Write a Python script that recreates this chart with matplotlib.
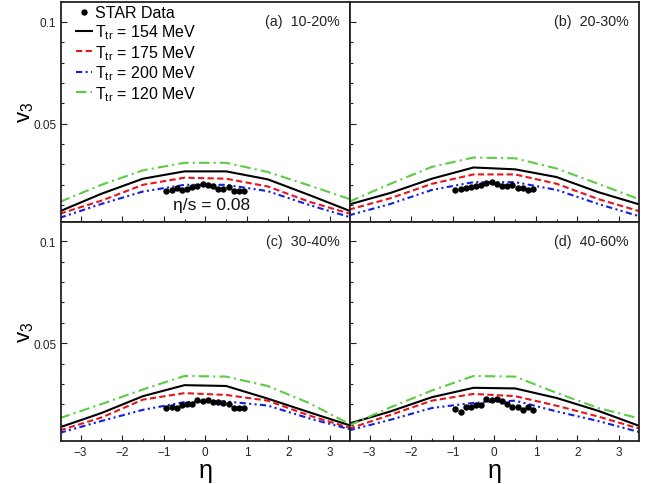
import numpy as np
import matplotlib
matplotlib.use("Agg")
import matplotlib.pyplot as plt
from matplotlib.ticker import MultipleLocator, FixedLocator, FuncFormatter

plt.rcParams['font.family'] = ['Liberation Sans', 'DejaVu Sans']
plt.rcParams['mathtext.fontset'] = 'custom'
plt.rcParams['mathtext.rm'] = 'Liberation Sans'
plt.rcParams['mathtext.it'] = 'Liberation Sans'

# Model grid in pseudorapidity
eta_model = [-3.5, -2.5, -1.5, -0.5, 0.5, 1.5, 2.5, 3.5]
# STAR measurement bins
eta_data = [-0.9375, -0.8125, -0.6875, -0.5625, -0.4375, -0.3125, -0.1875, -0.0625,
            0.0625, 0.1875, 0.3125, 0.4375, 0.5625, 0.6875, 0.8125, 0.9375]

panel_labels = ["(a)  10-20%", "(b)  20-30%", "(c)  30-40%", "(d)  40-60%"]

# v3(eta), T_tr = 154 MeV
v3_154 = [
    [0.0070, 0.0156, 0.0230, 0.0266, 0.0266, 0.0227, 0.0150, 0.0070],
    [0.0103, 0.0160, 0.0230, 0.0285, 0.0276, 0.0238, 0.0164, 0.0103],
    [0.0087, 0.0157, 0.0240, 0.0294, 0.0290, 0.0228, 0.0161, 0.0095],
    [0.0105, 0.0165, 0.0235, 0.0281, 0.0278, 0.0231, 0.0168, 0.0093],
]
# T_tr = 175 MeV
v3_175 = [
    [0.0058, 0.0122, 0.0200, 0.0235, 0.0230, 0.0192, 0.0117, 0.0057],
    [0.0078, 0.0134, 0.0205, 0.0251, 0.0251, 0.0205, 0.0130, 0.0070],
    [0.0072, 0.0135, 0.0223, 0.0255, 0.0246, 0.0218, 0.0145, 0.0083],
    [0.0080, 0.0148, 0.0218, 0.0251, 0.0240, 0.0193, 0.0140, 0.0080],
]
# T_tr = 200 MeV
v3_200 = [
    [0.0038, 0.0106, 0.0167, 0.0200, 0.0200, 0.0169, 0.0101, 0.0040],
    [0.0050, 0.0106, 0.0175, 0.0213, 0.0213, 0.0175, 0.0106, 0.0045],
    [0.0060, 0.0118, 0.0173, 0.0211, 0.0214, 0.0194, 0.0131, 0.0076],
    [0.0072, 0.0124, 0.0182, 0.0207, 0.0218, 0.0165, 0.0118, 0.0063],
]
# T_tr = 120 MeV
v3_120 = [
    [0.0116, 0.0200, 0.0271, 0.0308, 0.0308, 0.0263, 0.0197, 0.0128],
    [0.0116, 0.0205, 0.0288, 0.0334, 0.0330, 0.0280, 0.0205, 0.0128],
    [0.0132, 0.0201, 0.0273, 0.0339, 0.0336, 0.0290, 0.0206, 0.0100],
    [0.0095, 0.0185, 0.0268, 0.0339, 0.0336, 0.0256, 0.0182, 0.0130],
]
# STAR data
v3_star = [
    [0.0172, 0.0175, 0.0183, 0.0177, 0.0180, 0.0190, 0.0193, 0.0202,
     0.0197, 0.0192, 0.0180, 0.0180, 0.0187, 0.0170, 0.0169, 0.0169],
    [0.0177, 0.0180, 0.0183, 0.0190, 0.0195, 0.0200, 0.0210, 0.0212,
     0.0202, 0.0195, 0.0195, 0.0198, 0.0185, 0.0183, 0.0173, 0.0178],
    [0.0181, 0.0186, 0.0181, 0.0198, 0.0203, 0.0203, 0.0223, 0.0218,
     0.0223, 0.0211, 0.0210, 0.0208, 0.0201, 0.0181, 0.0181, 0.0181],
    [0.0177, 0.0160, 0.0185, 0.0185, 0.0198, 0.0195, 0.0226, 0.0223,
     0.0228, 0.0215, 0.0203, 0.0187, 0.0187, 0.0172, 0.0185, 0.0172],
]

fig = plt.figure(figsize=(6.55, 4.85), dpi=100)
L, R, B, T = 61 / 655, 639 / 655, 1 - 442 / 485, 1 - 3 / 485
W = (R - L) / 2
H = (T - B) / 2

axes = []
for i in range(4):
    row, col = divmod(i, 2)
    ax = fig.add_axes([L + col * W, T - (row + 1) * H, W, H])
    axes.append(ax)

minus = "\u2212"
def fmt_x(v, pos):
    s = f"{int(round(v))}"
    return s.replace("-", minus)

for i, ax in enumerate(axes):
    row, col = divmod(i, 2)
    ax.plot(eta_data, v3_star[i], 'o', color='black', ms=4.6, mew=0, label='STAR Data', zorder=5)
    ax.plot(eta_model, v3_154[i], '-', color='black', lw=1.5, label=r'T$_{\rm tr}$ = 154 MeV')
    ax.plot(eta_model, v3_175[i], color='#e8151a', lw=1.5, dashes=(3, 1.6),
            label=r'T$_{\rm tr}$ = 175 MeV')
    ax.plot(eta_model, v3_200[i], color='#1020e0', lw=1.5, dashes=(3, 1.6, 1, 1.6, 1, 1.6),
            label=r'T$_{\rm tr}$ = 200 MeV')
    ax.plot(eta_model, v3_120[i], color='#5ccc45', lw=1.5, dashes=(5, 2, 1, 2),
            label=r'T$_{\rm tr}$ = 120 MeV')

    ax.set_xlim(-3.47, 3.48)
    ax.set_ylim(0.002, 0.1097)
    ax.xaxis.set_major_locator(FixedLocator([-3, -2, -1, 0, 1, 2, 3]))
    ax.xaxis.set_minor_locator(MultipleLocator(0.5))
    ax.yaxis.set_major_locator(FixedLocator([0.05, 0.1]))
    ax.yaxis.set_minor_locator(MultipleLocator(0.01))
    ax.tick_params(which='both', direction='in', top=False, right=False, labelsize=8.5,
                   colors='#222222', width=0.8)
    ax.tick_params(which='major', length=4)
    ax.tick_params(which='minor', length=2.5)
    for s in ax.spines.values():
        s.set_linewidth(1.3)
        s.set_color('#222222')

    if row == 1:
        ax.xaxis.set_major_formatter(FuncFormatter(fmt_x))
        ax.set_xlabel('\u03b7', fontsize=18, labelpad=0)
    else:
        ax.tick_params(labelbottom=False)
    if col == 0:
        ax.yaxis.set_major_formatter(FuncFormatter(lambda v, p: f"{v:g}"))
        ax.set_ylabel(r'v$_3$', fontsize=16, labelpad=-2)
    else:
        ax.tick_params(labelleft=False)

    ax.text(0.965, 0.945, panel_labels[i], transform=ax.transAxes, ha='right', va='top',
            fontsize=10.3, color='#222222')

axes[0].legend(loc='upper left', frameon=False, fontsize=11.5, handlelength=1.0,
               handletextpad=0.2, labelspacing=0.12, borderaxespad=0.15,
               bbox_to_anchor=(0.02, 1.025))
axes[0].text(0.52, 0.078, '\u03b7/s = 0.08', transform=axes[0].transAxes, ha='center',
             va='center', fontsize=12.5, color='#111111')

fig.savefig('out.png', dpi=100)
